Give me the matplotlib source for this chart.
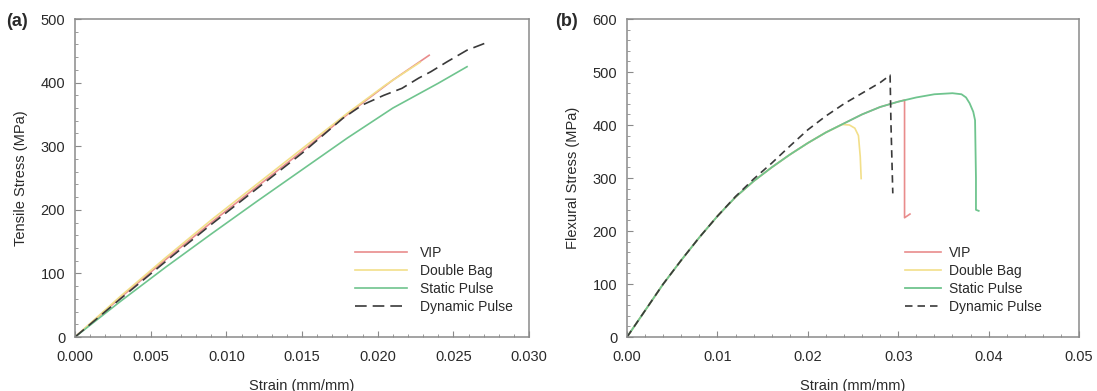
import matplotlib
matplotlib.use('Agg')
import matplotlib.pyplot as plt
from matplotlib.ticker import MultipleLocator

plt.rcParams['font.family'] = ['Liberation Sans', 'DejaVu Sans']

# (a) tensile test
vip_a_x = [0, 0.003, 0.006, 0.009, 0.012, 0.015, 0.018, 0.021, 0.0234]
vip_a_y = [0, 62, 122, 180, 236, 292, 350, 404, 443]
dbag_a_x = [0, 0.003, 0.006, 0.009, 0.012, 0.015, 0.018, 0.0205, 0.0228]
dbag_a_y = [0, 64, 125, 184, 240, 296, 352, 396, 432]
stat_a_x = [0, 0.003, 0.006, 0.009, 0.012, 0.015, 0.018, 0.021, 0.024, 0.0259]
stat_a_y = [0, 56, 110, 162, 213, 263, 313, 360, 399, 425]
dyn_a_x = [0, 0.003, 0.006, 0.009, 0.012, 0.015, 0.0177, 0.019, 0.0204, 0.0216,
           0.0227, 0.0235, 0.0246, 0.0259, 0.0271]
dyn_a_y = [0, 60, 119, 177, 233, 289, 344, 365, 380, 391, 407, 417, 433, 451, 462]

# (b) flexural test
vip_b_x = [0, 0.002, 0.004, 0.006, 0.008, 0.010, 0.012, 0.014, 0.016, 0.018, 0.020,
           0.022, 0.024, 0.026, 0.028, 0.030, 0.0307, 0.0307, 0.0307, 0.0313]
vip_b_y = [0, 50, 100, 145, 188, 228, 264, 294, 320, 344, 366, 386, 403, 420, 434,
           444, 447, 330, 225, 232]
dbag_b_x = [0, 0.002, 0.004, 0.006, 0.008, 0.010, 0.012, 0.014, 0.016, 0.018, 0.020,
            0.022, 0.0238, 0.0246, 0.0252, 0.0256, 0.0258, 0.0259]
dbag_b_y = [0, 50, 100, 145, 188, 228, 264, 294, 320, 344, 366, 386, 401, 400, 394,
            380, 340, 299]
stat_b_x = [0, 0.002, 0.004, 0.006, 0.008, 0.010, 0.012, 0.014, 0.016, 0.018, 0.020,
            0.022, 0.024, 0.026, 0.028, 0.030, 0.032, 0.034, 0.036, 0.037, 0.0375,
            0.0379, 0.0383, 0.0385, 0.0386, 0.0386, 0.0389]
stat_b_y = [0, 50, 100, 145, 188, 228, 264, 294, 320, 344, 366, 386, 403, 420, 434,
            444, 452, 458, 460, 458, 452, 441, 425, 409, 300, 240, 238]
dyn_b_x = [0, 0.002, 0.004, 0.006, 0.008, 0.010, 0.012, 0.014, 0.016, 0.018, 0.020,
           0.022, 0.024, 0.026, 0.028, 0.0291, 0.0292, 0.0294]
dyn_b_y = [0, 50, 100, 145, 188, 228, 265, 298, 328, 360, 391, 417, 440, 460, 480,
           494, 400, 271]

labels = ['VIP', 'Double Bag', 'Static Pulse', 'Dynamic Pulse']
colors = ['#e98c8c', '#f2df8a', '#6fc48e', '#3a3a3a']
txt = '#2a2a2a'

fig = plt.figure(figsize=(10.97, 3.91), dpi=100)
ax1 = fig.add_axes([0.0684, 0.1381, 0.4139, 0.8133])
ax2 = fig.add_axes([0.5716, 0.1381, 0.4120, 0.8133])

ax1.plot(vip_a_x, vip_a_y, color=colors[0], lw=1.2, label=labels[0])
ax1.plot(dbag_a_x, dbag_a_y, color=colors[1], lw=1.2, label=labels[1])
ax1.plot(stat_a_x, stat_a_y, color=colors[2], lw=1.2, label=labels[2])
ax1.plot(dyn_a_x, dyn_a_y, color=colors[3], lw=1.2, dashes=(7, 3.6), label=labels[3])

ax2.plot(vip_b_x, vip_b_y, color=colors[0], lw=1.2, label=labels[0])
ax2.plot(dbag_b_x, dbag_b_y, color=colors[1], lw=1.2, label=labels[1])
ax2.plot(stat_b_x, stat_b_y, color=colors[2], lw=1.3, label=labels[2])
ax2.plot(dyn_b_x, dyn_b_y, color=colors[3], lw=1.2, dashes=(4.5, 3), label=labels[3])

ax1.set_xlim(0, 0.03)
ax1.set_ylim(0, 500)
ax1.xaxis.set_major_locator(MultipleLocator(0.005))
ax1.xaxis.set_minor_locator(MultipleLocator(0.001))
ax1.yaxis.set_major_locator(MultipleLocator(100))
ax1.yaxis.set_minor_locator(MultipleLocator(20))
ax1.xaxis.set_major_formatter(lambda v, p: '%.3f' % v)
ax1.set_ylabel('Tensile Stress (MPa)', fontsize=10.5, color=txt, labelpad=9)

ax2.set_xlim(0, 0.05)
ax2.set_ylim(0, 600)
ax2.xaxis.set_major_locator(MultipleLocator(0.01))
ax2.xaxis.set_minor_locator(MultipleLocator(0.002))
ax2.yaxis.set_major_locator(MultipleLocator(100))
ax2.yaxis.set_minor_locator(MultipleLocator(20))
ax2.xaxis.set_major_formatter(lambda v, p: '%.2f' % v)
ax2.set_ylabel('Flexural Stress (MPa)', fontsize=10.5, color=txt, labelpad=9)

for ax in (ax1, ax2):
    ax.set_xlabel('Strain (mm/mm)', fontsize=10.5, color=txt, labelpad=11)
    for s in ax.spines.values():
        s.set_color('#8a8a8a')
        s.set_linewidth(1.1)
    ax.tick_params(which='both', direction='in', colors='#8a8a8a',
                   labelcolor=txt, labelsize=10.5, top=False, right=False)
    ax.tick_params(axis='x', which='major', length=4, pad=9)
    ax.tick_params(axis='y', which='major', length=4, pad=7)
    ax.tick_params(which='minor', length=2)

ax1.legend(loc='upper left', bbox_to_anchor=(0.617, 0.287), frameon=False,
           fontsize=10, handlelength=3.7, handletextpad=0.95, labelspacing=0.3,
           borderpad=0, borderaxespad=0, labelcolor=txt)
ax2.legend(loc='upper left', bbox_to_anchor=(0.615, 0.287), frameon=False,
           fontsize=10, handlelength=2.6, handletextpad=0.55, labelspacing=0.3,
           borderpad=0, borderaxespad=0, labelcolor=txt)

fig.text(6 / 1097, 1 - 21 / 391, '(a)', fontsize=13, fontweight='bold',
         color=txt, ha='left', va='center')
fig.text(555 / 1097, 1 - 21 / 391, '(b)', fontsize=13, fontweight='bold',
         color=txt, ha='left', va='center')

fig.savefig('out.png', dpi=100)
